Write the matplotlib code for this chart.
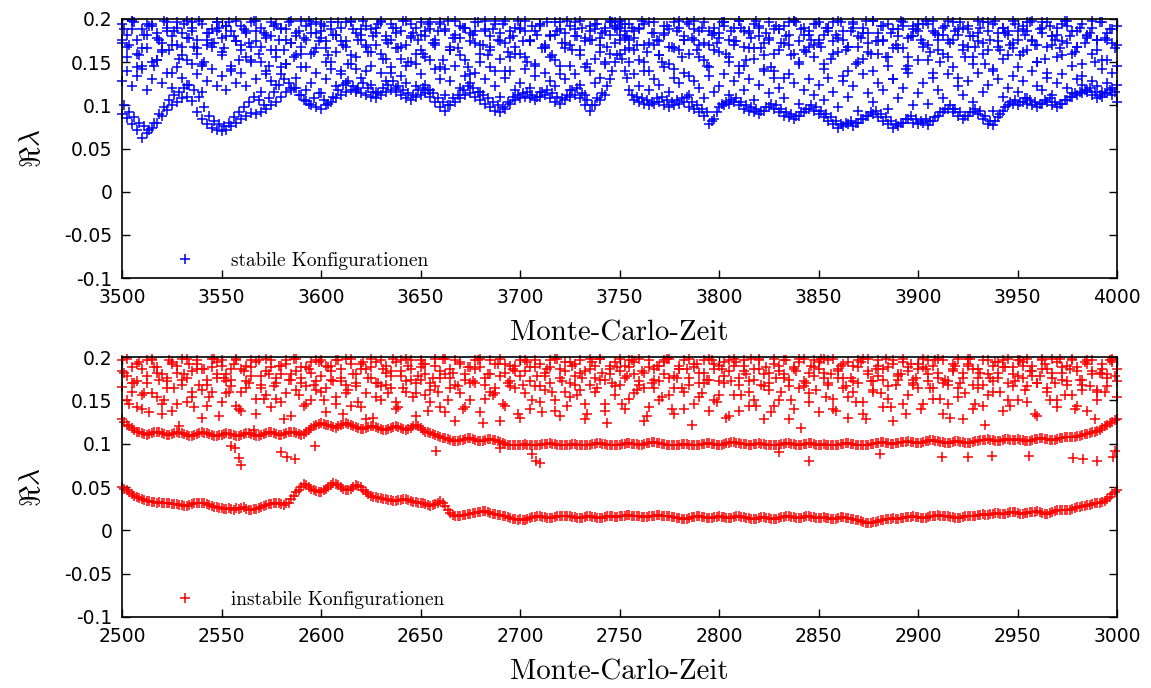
import numpy as np
import matplotlib
matplotlib.use("Agg")
import matplotlib.pyplot as plt

# Re(lambda) in units of 1e-3
# ---- stable configurations, t = 3500 ... 4000 every 2.5
stable_a = [
    90, 85, 78, 72, 62, 68, 74, 80, 88, 95, 100, 104, 108, 110, 105, 92, 84, 78, 74, 71,
    70, 72, 76, 80, 84, 88, 91, 90, 92, 96, 100, 104, 110, 115, 118, 120, 112, 105, 100, 98,
    96, 100, 104, 108, 112, 116, 118, 116, 114, 112, 110, 108, 112, 115, 118, 115, 112, 108, 106, 110,
    112, 114, 110, 104, 98, 94, 100, 104, 108, 112, 114, 110, 106, 102, 98, 94, 92, 96, 102, 106,
    108, 110, 108, 106, 110, 112, 108, 104, 102, 106, 110, 112, 108, 100, 94, 100, 106, 112, 130, 150,
    160, 140, 118, 106, 104, 102, 100, 102, 104, 100, 98, 100, 102, 104, 98, 96, 92, 88, 78, 84,
    98, 100, 102, 104, 100, 96, 94, 92, 90, 94, 98, 96, 92, 88, 86, 84, 88, 92, 96, 94,
    90, 86, 82, 78, 74, 76, 78, 76, 80, 84, 88, 90, 86, 82, 78, 74, 76, 80, 84, 80,
    78, 80, 77, 82, 88, 92, 96, 92, 88, 84, 88, 92, 90, 84, 78, 77, 86, 94, 100, 102,
    100, 104, 102, 100, 98, 102, 104, 100, 98, 102, 106, 110, 112, 114, 116, 112, 108, 110, 114, 112,
    104,
]
stable_b = [
    128, 140, 122, 134, 146, 118, 130, 152, 126, 138, 120, 144, 132, 124, 148, 136, 116, 128, 142, 122,
    134, 118, 146, 126, 138, 122, 150, 130, 116, 140, 128, 124, 136, 148, 120, 132, 144, 118, 126, 138,
    114, 130, 142, 122, 136, 126, 148, 118, 132, 140, 124, 116, 138, 128, 144, 120, 134, 126, 150, 122,
    136, 124, 118, 142, 130, 112, 128, 146, 120, 134, 126, 138, 116, 130, 144, 122, 110, 132, 140, 118,
    126, 142, 120, 134, 116, 138, 128, 122, 146, 130, 118, 136, 124, 112, 140, 126, 132, 148, 160, 172,
    176, 164, 150, 136, 122, 140, 118, 130, 124, 144, 116, 132, 126, 138, 112, 128, 120, 108, 134, 116,
    122, 136, 112, 128, 146, 118, 130, 106, 124, 140, 114, 132, 120, 108, 136, 126, 102, 118, 130, 112,
    124, 106, 132, 116, 98, 128, 110, 122, 94, 136, 114, 104, 126, 118, 96, 130, 108, 120, 138, 100,
    114, 126, 102, 132, 118, 108, 136, 96, 122, 112, 128, 104, 138, 116, 124, 94, 130, 110, 120, 134,
    116, 128, 108, 140, 122, 118, 132, 112, 126, 136, 120, 114, 130, 124, 118, 128, 122, 116, 126, 120,
    124,
]
stable_c = [
    172, 156, 188, 144, 166, 194, 150, 178, 162, 190, 138, 170, 184, 152, 196, 160, 146, 176, 168, 186,
    158, 192, 142, 174, 164, 186, 152, 198, 168, 136, 180, 156, 190, 148, 172, 184, 160, 144, 194, 166,
    178, 150, 188, 162, 140, 174, 196, 156, 182, 168, 146, 190, 160, 176, 138, 184, 154, 170, 194, 148,
    164, 186, 152, 176, 196, 142, 168, 182, 158, 190, 136, 172, 150, 186, 164, 198, 154, 140, 178, 160,
    188, 156, 174, 146, 192, 166, 180, 152, 136, 184, 170, 196, 158, 144, 176, 188, 162, 150, 182, 196,
    190, 178, 166, 186, 152, 194, 140, 170, 158, 182, 148, 196, 164, 176, 134, 188, 156, 172, 144, 184,
    162, 196, 150, 174, 138, 186, 166, 154, 192, 142, 178, 160, 188, 132, 170, 198, 148, 164, 182, 156,
    176, 142, 190, 160, 178, 134, 168, 196, 150, 184, 162, 140, 174, 192, 156, 130, 180, 166, 146, 188,
    152, 172, 194, 138, 164, 182, 156, 176, 132, 190, 168, 148, 184, 160, 196, 142, 174, 154, 186, 166,
    144, 188, 164, 176, 150, 196, 138, 170, 182, 158, 192, 146, 168, 134, 180, 160, 176, 142, 152, 138,
    146,
]
stable_d = [
    194, 182, 198, 176, 188, 166, 192, 184, 172, 196, 180, 190, 168, 198, 186, 176, 194, 170, 188, 196,
    178, 192, 186, 198, 170, 184, 196, 174, 190, 182, 164, 194, 188, 176, 198, 180, 168, 192, 184, 196,
    186, 174, 196, 182, 190, 168, 198, 184, 176, 192, 188, 170, 196, 180, 194, 166, 186, 198, 178, 190,
    196, 180, 188, 172, 194, 186, 164, 198, 178, 190, 184, 196, 170, 188, 180, 194, 174, 198, 186, 168,
    190, 198, 176, 186, 194, 170, 182, 196, 188, 166, 192, 180, 198, 174, 186, 194, 178, 190, 198, 192,
    198, 186, 194, 178, 190, 170, 196, 184, 174, 192, 188, 166, 198, 180, 194, 176, 186, 196, 170, 190,
    184, 196, 176, 190, 198, 168, 186, 194, 180, 172, 196, 188, 164, 192, 182, 198, 174, 190, 186, 170,
    196, 182, 190, 174, 198, 186, 168, 194, 180, 190, 172, 198, 184, 176, 194, 166, 188, 196, 178, 192,
    186, 194, 170, 198, 182, 190, 176, 196, 188, 164, 192, 180, 198, 172, 186, 194, 168, 190, 182, 198,
    176, 192, 186, 198, 170, 184, 196, 180, 190, 174, 198, 186, 168, 194, 182, 190, 176, 196, 184, 172,
    192,
]
stable_e = [
    176, 168, 198, 160, 142, 182, 194, 152, 164, 186, 170, 196, 158, 178, 190, 166, 148, 184, 172, 196,
    162, 180, 140, 174, 192, 156, 168, 186, 150, 178, 196, 164, 144, 188, 172, 158, 198, 176, 160, 184,
    194, 166, 150, 182, 174, 196, 158, 142, 188, 170, 162, 184, 198, 154, 176, 190, 168, 146, 180, 160,
    182, 156, 196, 170, 144, 188, 164, 178, 192, 152, 174, 186, 160, 198, 168, 140, 184, 172, 156, 190,
    160, 186, 174, 148, 194, 168, 156, 182, 196, 172, 146, 188, 164, 178, 192, 154, 170, 186, 196, 190,
    182, 194, 176, 164, 188, 150, 172, 196, 158, 184, 168, 142, 190, 176, 160, 198, 170, 152, 186, 164,
    178, 192, 156, 170, 198, 146, 184, 166, 190, 158, 176, 140, 188, 172, 196, 160, 150, 182, 168, 194,
    172, 148, 186, 196, 162, 176, 140, 190, 168, 154, 184, 198, 160, 174, 146, 188, 166, 192, 156, 180,
    194, 168, 152, 186, 176, 160, 198, 144, 182, 170, 188, 156, 174, 196, 164, 140, 184, 190, 158, 172,
    186, 162, 196, 174, 150, 190, 168, 180, 156, 194, 172, 160, 186, 148, 178, 198, 164, 152, 176, 188,
    170,
]
# ---- stable configurations, t = 3501.25 ... 3998.75 every 2.5
stable_f = [
    188, 170, 196, 158, 182, 192, 146, 176, 198, 164, 186, 154, 194, 178, 168, 198, 150, 184, 172, 190,
    166, 196, 180, 152, 188, 172, 198, 160, 184, 146, 192, 176, 164, 196, 156, 186, 178, 198, 162, 174,
    192, 158, 182, 196, 170, 148, 188, 176, 198, 162, 180, 194, 154, 172, 190, 166, 198, 150, 184, 176,
    160, 194, 172, 186, 152, 198, 178, 166, 190, 144, 182, 196, 170, 158, 188, 176, 194, 162, 180, 198,
    174, 150, 192, 182, 166, 196, 158, 186, 172, 198, 164, 180, 190, 148, 176, 194, 184, 168, 196, 188,
    194, 180, 190, 170, 198, 162, 184, 176, 150, 192, 168, 186, 156, 196, 178, 164, 190, 146, 182, 172,
    196, 160, 186, 174, 190, 152, 178, 198, 166, 184, 144, 192, 172, 180, 158, 196, 188, 162, 176, 194,
    168, 190, 154, 182, 196, 164, 186, 148, 178, 198, 160, 174, 192, 156, 184, 170, 198, 142, 180, 188,
    176, 198, 162, 184, 150, 192, 172, 186, 196, 156, 180, 168, 190, 148, 176, 198, 164, 184, 170, 194,
    158, 182, 196, 170, 188, 154, 192, 176, 166, 198, 180, 162, 190, 172, 184, 150, 196, 178, 188, 166,
]
stable_g = [
    100, 92, 86, 80, 76, 72, 80, 90, 98, 106, 112, 116, 120, 124, 118, 110, 98, 88, 82, 78,
    76, 80, 86, 92, 98, 104, 110, 106, 100, 108, 116, 124, 130, 126, 120, 112, 106, 102, 108, 114,
    106, 102, 110, 118, 124, 128, 122, 120, 126, 120, 116, 114, 120, 124, 128, 122, 118, 114, 112, 118,
    120, 118, 114, 108, 104, 100, 108, 112, 118, 122, 120, 116, 112, 108, 104, 100, 98, 104, 110, 112,
    114, 116, 112, 110, 116, 118, 114, 110, 108, 112, 118, 120, 114, 106, 100, 108, 114, 122, 140, 158,
    154, 132, 112, 110, 108, 106, 104, 108, 110, 106, 104, 106, 108, 110, 104, 100, 96, 92, 82, 92,
    102, 104, 106, 108, 104, 100, 98, 96, 94, 98, 102, 100, 96, 92, 90, 88, 92, 96, 100, 98,
    94, 90, 86, 82, 78, 80, 82, 80, 84, 88, 92, 94, 90, 86, 82, 78, 80, 84, 88, 84,
    82, 84, 82, 86, 92, 96, 100, 96, 92, 88, 92, 96, 94, 88, 82, 82, 90, 98, 104, 106,
    104, 108, 106, 104, 102, 106, 108, 104, 102, 106, 110, 114, 116, 118, 120, 116, 112, 114, 118, 116,
]

# ---- unstable configurations, t = 2500 ... 3000 every 2.5
unstable_low = [
    50, 46, 42, 38, 36, 34, 33, 32, 32, 31, 30, 30, 29, 28, 30, 31, 32, 30, 28, 27,
    26, 25, 25, 26, 26, 25, 24, 25, 27, 29, 30, 31, 30, 31, 36, 44, 50, 52, 48, 45,
    44, 48, 52, 54, 50, 46, 48, 52, 50, 44, 40, 38, 37, 36, 35, 34, 35, 36, 34, 33,
    32, 30, 28, 30, 34, 28, 20, 17, 17, 18, 19, 20, 21, 22, 20, 19, 18, 16, 14, 13,
    13, 12, 14, 15, 16, 15, 14, 15, 16, 17, 16, 15, 14, 15, 16, 15, 14, 15, 16, 15,
    16, 17, 18, 17, 16, 15, 16, 17, 18, 17, 16, 15, 14, 13, 14, 15, 16, 15, 14, 15,
    16, 15, 14, 15, 16, 15, 14, 13, 14, 15, 14, 13, 14, 15, 16, 15, 14, 15, 16, 15,
    14, 15, 14, 13, 14, 15, 14, 13, 12, 10, 9, 10, 11, 12, 13, 14, 13, 14, 15, 16,
    15, 14, 15, 16, 18, 17, 16, 15, 14, 15, 16, 17, 18, 19, 18, 19, 20, 19, 20, 21,
    20, 19, 20, 21, 22, 20, 19, 21, 23, 24, 23, 25, 27, 28, 29, 30, 32, 33, 36, 42,
    46,
]
unstable_high = [
    128, 122, 118, 114, 112, 110, 112, 114, 112, 110, 111, 113, 112, 110, 109, 111, 113, 112, 110, 109,
    110, 112, 111, 109, 110, 112, 111, 109, 110, 112, 113, 111, 110, 112, 114, 112, 110, 113, 118, 122,
    124, 122, 120, 118, 121, 124, 122, 119, 117, 118, 120, 119, 117, 116, 118, 120, 118, 116, 118, 121,
    118, 114, 112, 110, 108, 106, 104, 103, 104, 105, 106, 104, 103, 104, 105, 104, 102, 100, 99, 98,
    99, 100, 99, 98, 99, 100, 101, 100, 99, 98, 99, 100, 99, 98, 99, 100, 101, 100, 99, 98,
    99, 100, 101, 100, 99, 100, 101, 102, 101, 100, 99, 98, 99, 100, 99, 98, 99, 100, 101, 100,
    99, 100, 101, 102, 101, 100, 99, 100, 101, 100, 99, 98, 99, 100, 101, 100, 99, 100, 101, 100,
    99, 100, 99, 98, 99, 100, 101, 100, 99, 98, 99, 100, 101, 102, 101, 100, 101, 102, 103, 102,
    101, 102, 103, 104, 103, 102, 101, 102, 103, 102, 101, 102, 103, 104, 105, 104, 103, 104, 105, 104,
    105, 104, 103, 104, 105, 106, 105, 104, 105, 107, 108, 108, 109, 110, 111, 113, 115, 118, 122, 125,
    128,
]
unstable_s1 = [
    165, 150, 188, 172, 140, 196, 158, 182, 134, 176, 192, 146, 168, 198, 154, 186, 130, 174, 160, 194,
    148, 180, 166, 196, 138, 172, 188, 152, 164, 198, 142, 176, 190, 158, 132, 184, 170, 146, 194, 162,
    178, 136, 190, 154, 172, 198, 144, 166, 186, 128, 176, 194, 150, 168, 184, 140, 196, 160, 174, 132,
    188, 156, 170, 198, 142, 180, 164, 126, 192, 174, 150, 186, 136, 168, 196, 158, 178, 144, 190, 164,
    130, 184, 172, 196, 148, 162, 188, 138, 176, 194, 154, 168, 182, 128, 198, 160, 174, 146, 190, 166,
    184, 140, 196, 158, 172, 126, 188, 164, 150, 194, 176, 134, 186, 160, 198, 146, 170, 182, 138, 192,
    156, 178, 132, 190, 168, 196, 144, 174, 186, 128, 162, 198, 150, 180, 166, 140, 194, 172, 158, 188,
    136, 176, 196, 152, 184, 164, 130, 190, 170, 148, 198, 160, 178, 142, 188, 126, 174, 194, 156, 168,
    192, 146, 180, 164, 198, 134, 172, 186, 154, 128, 190, 168, 176, 144, 196, 160, 182, 138, 170, 188,
    150, 194, 166, 178, 132, 186, 160, 198, 142, 174, 190, 156, 184, 168, 138, 196, 162, 180, 176, 194,
    172,
]
unstable_s2 = [
    196, 178, 160, 142, 186, 170, 198, 154, 180, 164, 138, 190, 174, 148, 184, 196, 162, 144, 188, 176,
    190, 158, 174, 144, 186, 164, 196, 134, 178, 156, 188, 170, 148, 196, 180, 162, 176, 188, 150, 172,
    196, 164, 184, 146, 176, 158, 192, 170, 142, 186, 198, 154, 166, 190, 178, 148, 184, 172, 196, 158,
    174, 192, 148, 166, 184, 136, 176, 196, 158, 142, 188, 170, 198, 152, 180, 164, 126, 192, 172, 184,
    196, 158, 140, 188, 166, 178, 196, 150, 132, 184, 170, 192, 162, 146, 186, 176, 198, 138, 180, 156,
    168, 190, 152, 180, 198, 164, 142, 186, 172, 196, 156, 178, 190, 140, 168, 188, 154, 196, 174, 150,
    190, 170, 196, 156, 138, 184, 172, 150, 196, 166, 182, 144, 190, 176, 128, 186, 164, 198, 148, 178,
    186, 198, 168, 140, 176, 192, 154, 172, 196, 134, 184, 162, 190, 174, 152, 196, 180, 146, 188, 170,
    164, 188, 196, 152, 176, 170, 146, 192, 164, 182, 198, 140, 186, 168, 156, 190, 176, 196, 150, 180,
    196, 176, 148, 190, 170, 198, 164, 182, 150, 188, 172, 196, 144, 162, 192, 180, 150, 186, 166, 198,
    154,
]
unstable_s3 = [
    184, 198, 170, 192, 156, 178, 196, 188, 146, 172, 194, 182, 198, 176, 160, 192, 186, 168, 198, 180,
    196, 172, 186, 198, 160, 190, 178, 194, 168, 184, 196, 152, 180, 192, 174, 198, 188, 166, 182, 196,
    160, 190, 174, 196, 186, 168, 198, 180, 192, 158, 188, 170, 196, 182, 164, 194, 178, 198, 186, 170,
    196, 180, 162, 190, 176, 198, 186, 168, 194, 180, 170, 196, 188, 176, 160, 192, 198, 182, 166, 190,
    178, 196, 188, 166, 192, 182, 170, 198, 186, 160, 194, 178, 196, 184, 168, 190, 198, 174, 186, 194,
    198, 176, 188, 194, 168, 182, 196, 174, 190, 180, 198, 164, 186, 196, 176, 192, 182, 170, 198, 186,
    172, 194, 184, 198, 176, 190, 160, 186, 198, 180, 170, 192, 184, 196, 174, 188, 198, 166, 182, 196,
    194, 182, 170, 198, 186, 176, 194, 160, 188, 198, 180, 172, 196, 186, 166, 192, 178, 198, 184, 174,
    186, 198, 172, 190, 182, 196, 168, 184, 198, 176, 192, 186, 164, 196, 180, 172, 194, 188, 198, 166,
    178, 190, 198, 184, 170, 196, 186, 176, 194, 182, 168, 198, 188, 174, 196, 184, 160, 192, 180, 196,
    186,
]
# ---- unstable configurations, t = 2501.25 ... 2998.75 every 2.5
unstable_low2 = [
    48, 44, 40, 37, 35, 34, 33, 33, 31, 31, 30, 29, 28, 29, 31, 32, 31, 29, 27, 26,
    25, 26, 24, 25, 27, 24, 25, 26, 28, 30, 31, 32, 29, 32, 40, 47, 53, 50, 46, 44,
    46, 50, 55, 52, 48, 47, 50, 51, 47, 42, 39, 37, 36, 35, 34, 35, 36, 35, 33, 32,
    31, 29, 29, 32, 31, 24, 18, 16, 18, 19, 20, 21, 22, 21, 19, 18, 17, 15, 13, 12,
    12, 13, 15, 16, 15, 14, 14, 16, 17, 16, 15, 14, 14, 16, 15, 14, 14, 16, 16, 15,
    16, 18, 17, 16, 15, 15, 16, 18, 17, 16, 15, 14, 13, 13, 15, 16, 15, 14, 14, 15,
    15, 14, 14, 16, 15, 14, 13, 13, 15, 14, 13, 13, 15, 16, 15, 14, 14, 16, 15, 14,
    14, 14, 13, 13, 15, 14, 13, 12, 11, 9, 9, 10, 12, 13, 13, 13, 14, 15, 15, 15,
    14, 14, 16, 17, 17, 16, 15, 14, 14, 16, 17, 17, 18, 18, 19, 20, 19, 19, 21, 21,
    19, 20, 21, 21, 21, 19, 20, 22, 24, 23, 24, 26, 27, 28, 29, 31, 32, 34, 39, 44,
]
unstable_high2 = [
    125, 120, 116, 113, 111, 111, 113, 113, 111, 110, 112, 112, 111, 109, 110, 112, 112, 111, 109, 110,
    111, 111, 110, 109, 111, 112, 110, 109, 111, 113, 112, 110, 111, 113, 113, 111, 111, 116, 120, 123,
    123, 121, 119, 120, 123, 123, 120, 118, 117, 119, 120, 118, 116, 117, 119, 119, 117, 117, 120, 120,
    116, 113, 111, 109, 107, 105, 103, 103, 104, 106, 105, 103, 103, 105, 104, 103, 101, 99, 98, 98,
    99, 99, 98, 98, 100, 100, 100, 99, 98, 98, 100, 99, 98, 98, 100, 101, 100, 99, 98, 98,
    100, 101, 100, 100, 99, 101, 102, 101, 100, 99, 98, 98, 100, 100, 98, 98, 100, 101, 100, 99,
    99, 101, 102, 101, 100, 100, 99, 100, 100, 99, 98, 98, 100, 101, 100, 99, 99, 100, 101, 99,
    99, 99, 98, 98, 100, 101, 100, 99, 98, 98, 100, 101, 102, 101, 100, 101, 102, 102, 102, 101,
    101, 103, 104, 103, 102, 101, 101, 103, 102, 101, 101, 103, 104, 104, 104, 103, 103, 105, 104, 104,
    104, 103, 103, 105, 106, 105, 104, 104, 106, 108, 108, 108, 109, 111, 112, 114, 116, 120, 124, 127,
]
unstable_s4 = [
    182, 146, 170, 194, 158, 136, 188, 174, 150, 196, 164, 120, 180, 192, 142, 168, 186, 154, 198, 132,
    176, 160, 192, 140, 184, 170, 116, 196, 152, 180, 166, 190, 128, 174, 198, 156, 144, 186, 168, 194,
    150, 188, 172, 196, 134, 162, 180, 148, 194, 176, 130, 170, 186, 158, 198, 142, 164, 190, 154, 178,
    192, 138, 176, 160, 198, 150, 182, 166, 140, 188, 172, 196, 124, 180, 156, 192, 146, 170, 186, 134,
    168, 194, 150, 178, 136, 186, 160, 198, 172, 144, 190, 156, 176, 134, 194, 164, 182, 124, 170, 188,
    146, 178, 196, 162, 184, 132, 170, 190, 154, 198, 140, 176, 164, 186, 122, 192, 158, 174, 196, 148,
    186, 130, 172, 194, 156, 180, 198, 144, 168, 188, 136, 176, 160, 196, 150, 184, 118, 170, 190, 162,
    198, 154, 180, 138, 190, 166, 176, 148, 194, 128, 172, 186, 158, 198, 142, 168, 180, 134, 192, 176,
    140, 186, 164, 196, 152, 174, 130, 190, 170, 158, 198, 146, 182, 122, 176, 194, 160, 188, 144, 172,
    196, 162, 184, 134, 178, 192, 150, 170, 198, 156, 186, 140, 174, 194, 166, 128, 182, 160, 196, 178,
]
# isolated points below the upper band
outlier_t = [2555, 2557, 2559, 2560, 2580, 2583, 2587, 2597, 2658, 2690, 2706, 2708, 2710,
             2830, 2845, 2881, 2912, 2925, 2937, 2956, 2978, 2983, 2990, 2998, 2999]
outlier_y = [97, 95, 83, 75, 90, 85, 82, 97, 91, 95, 88, 80, 78,
             90, 80, 88, 85, 85, 86, 86, 83, 82, 80, 85, 92]

t_stable = np.arange(3500, 4000.1, 2.5)
t_stable_mid = np.arange(3501.25, 4000, 2.5)
t_unstable = np.arange(2500, 3000.1, 2.5)
t_unstable_mid = np.arange(2501.25, 3000, 2.5)

plt.rcParams['mathtext.fontset'] = 'cm'
plt.rcParams['axes.unicode_minus'] = False

fig = plt.figure(figsize=(11.51, 6.88), dpi=100)
ax1 = fig.add_axes([0.106, 0.5959, 0.8645, 0.3765])
ax2 = fig.add_axes([0.106, 0.1032, 0.8645, 0.3779])

mk = dict(ls='none', marker='+', ms=7.5, mew=1.1, clip_on=False)


def draw(ax, t, tracks, colour, label):
    for i, tr in enumerate(tracks):
        assert len(tr) == len(t), (label, i, len(tr), len(t))
        ax.plot(t, np.array(tr) / 1000, color=colour,
                label=label if i == 0 else None, **mk)


draw(ax1, t_stable, [stable_a, stable_b, stable_c, stable_d, stable_e],
     '#0000ff', 'stabile Konfigurationen')
draw(ax1, t_stable_mid, [stable_g, stable_f], '#0000ff', None)

draw(ax2, t_unstable, [unstable_low, unstable_high, unstable_s1, unstable_s2, unstable_s3],
     '#ff0000', 'instabile Konfigurationen')
draw(ax2, t_unstable_mid, [unstable_low2, unstable_high2, unstable_s4], '#ff0000', None)
ax2.plot(outlier_t, np.array(outlier_y) / 1000, color='#ff0000', **mk)

for ax, x0 in [(ax1, 3500), (ax2, 2500)]:
    ax.set_xlim(x0, x0 + 500)
    ax.set_ylim(-0.1, 0.2)
    ax.set_xticks(np.arange(x0, x0 + 501, 50))
    ax.set_yticks([-0.1, -0.05, 0, 0.05, 0.1, 0.15, 0.2])
    ax.set_yticklabels(['-0.1', '-0.05', '0', '0.05', '0.1', '0.15', '0.2'])
    ax.tick_params(direction='in', length=6, width=1, top=True, right=True,
                   labelsize=13.5, pad=7)
    for s in ax.spines.values():
        s.set_linewidth(1.2)
    ax.set_xlabel('Monte-Carlo-Zeit', family='cmr10', fontsize=20.8, labelpad=10)
    ax.set_ylabel(r'$\Re\lambda$', fontsize=21, labelpad=13)
    ax.legend(loc='lower left', bbox_to_anchor=(0.007, -0.035), frameon=False,
              numpoints=1, handlelength=4.0, handletextpad=0.4,
              prop={'family': 'cmr10', 'size': 13.9})

fig.savefig('out.png', dpi=100)
